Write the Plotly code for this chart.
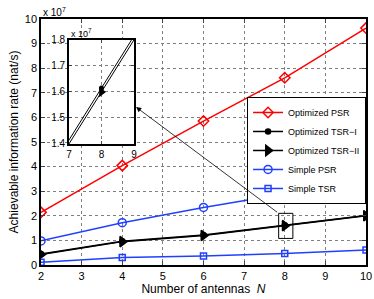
import plotly.graph_objects as go

# Data (rates in units of 1e7 nat/s)
N = [2, 4, 6, 8, 10]
opt_psr = [2.14, 4.04, 5.85, 7.61, 9.63]
opt_tsr1 = [0.445, 0.965, 1.215, 1.615, 2.015]
opt_tsr2 = [0.43, 0.95, 1.20, 1.60, 2.00]
simple_psr = [0.98, 1.72, 2.34, 2.90, 3.66]
simple_tsr = [0.11, 0.30, 0.37, 0.47, 0.61]

x_ticks = [2, 3, 4, 5, 6, 7, 8, 9, 10]
y_ticks = [0, 1, 2, 3, 4, 5, 6, 7, 8, 9, 10]
inset_x_ticks = [7, 8, 9]
inset_y_ticks = [1.4, 1.5, 1.6, 1.7, 1.8]

RED = "#ff0000"
BLUE = "#2040ff"
BLACK = "#000000"

fig = go.Figure()

series = [
    ("Optimized PSR", opt_psr, RED, "diamond-open", 8, 1.5),
    ("Optimized TSR\u2212I", opt_tsr1, BLACK, "circle", 5, 1.5),
    ("Optimized TSR\u2212II", opt_tsr2, BLACK, "triangle-right", 9, 1.5),
    ("Simple PSR", simple_psr, BLUE, "circle-open", 8, 1.5),
    ("Simple TSR", simple_tsr, BLUE, "square-open", 6, 1.5),
]
for name, ys, col, sym, ms, lw in series:
    fig.add_trace(go.Scatter(
        x=N, y=ys, name=name, mode="lines+markers",
        line=dict(color=col, width=lw),
        marker=dict(symbol=sym, size=ms, color=col, line=dict(color=col, width=1.5)),
        xaxis="x", yaxis="y",
    ))

# Inset traces
for name, ys, col, sym, ms in [("Optimized TSR\u2212I", opt_tsr1, BLACK, "circle", 5),
                               ("Optimized TSR\u2212II", opt_tsr2, BLACK, "triangle-right", 9)]:
    fig.add_trace(go.Scatter(
        x=N, y=ys, mode="lines+markers", showlegend=False,
        line=dict(color=col, width=1),
        marker=dict(symbol=sym, size=ms, color=col),
        xaxis="x2", yaxis="y2", cliponaxis=True,
    ))

grid = dict(showgrid=True, gridcolor="#7f7f7f", griddash="dot", gridwidth=1, automargin=False)
axfont = dict(family="Liberation Sans, Arial, sans-serif", size=11, color="black")

fig.update_layout(
    width=374, height=299,
    margin=dict(l=41, r=8, t=19, b=34),
    paper_bgcolor="white", plot_bgcolor="white",
    font=axfont,
    xaxis=dict(range=[2, 10], tickvals=x_ticks, ticks="inside", ticklen=4,
               showline=True, linecolor="black", linewidth=1.5, mirror="allticks",
               zeroline=False, tickfont=dict(size=11),
               title=dict(text="Number of antennas  <i>N</i>", font=dict(size=12), standoff=2),
               **grid),
    yaxis=dict(range=[0, 10], tickvals=y_ticks, ticks="inside", ticklen=4,
               showline=True, linecolor="black", linewidth=1.5, mirror="allticks",
               zeroline=False, tickfont=dict(size=11),
               title=dict(text="Achievable information rate (nat/s)", font=dict(size=12), standoff=4),
               **grid),
    xaxis2=dict(domain=[0.086, 0.286], anchor="y2", range=[7, 9], tickvals=inset_x_ticks,
                ticks="inside", ticklen=3, showline=True, linecolor="black", linewidth=1.5,
                mirror="allticks", zeroline=False, tickfont=dict(size=10), **grid),
    yaxis2=dict(domain=[0.492, 0.915], anchor="x2", range=[1.4, 1.8], tickvals=inset_y_ticks,
                tickformat=".1f", ticks="inside", ticklen=3, showline=True, linecolor="black",
                linewidth=1.5, mirror="allticks", zeroline=False, tickfont=dict(size=10), **grid),
    legend=dict(x=0.634, y=0.683, xanchor="left", yanchor="top",
                bgcolor="white", bordercolor="black", borderwidth=1,
                font=dict(size=9), tracegroupgap=0, itemwidth=30),
    showlegend=True,
)

# Zoom rectangle around N=8
fig.add_shape(type="rect", xref="x", yref="y", x0=7.85, x1=8.2, y0=1.08, y1=2.1,
              line=dict(color="black", width=1))

# Arrow from rectangle to inset
fig.add_annotation(x=4.34, y=6.42, ax=7.85, ay=2.1, xref="x", yref="y", axref="x", ayref="y",
                   showarrow=True, arrowhead=2, arrowsize=1.3, arrowwidth=0.8,
                   arrowcolor="black", text="")

# Exponent labels
fig.add_annotation(x=0, y=1.0, xref="paper", yref="paper", xanchor="left", yanchor="bottom",
                   text="x 10<sup>7</sup>", showarrow=False, font=dict(size=10), yshift=-1)
fig.add_annotation(x=0.086, y=0.915, xref="paper", yref="paper", xanchor="left", yanchor="bottom",
                   text="x 10<sup>7</sup>", showarrow=False, font=dict(size=9), yshift=-1)

fig.write_html("out.html", config={"displayModeBar": False},
               post_script="document.body.style.margin='0';document.body.style.overflow='hidden';")
